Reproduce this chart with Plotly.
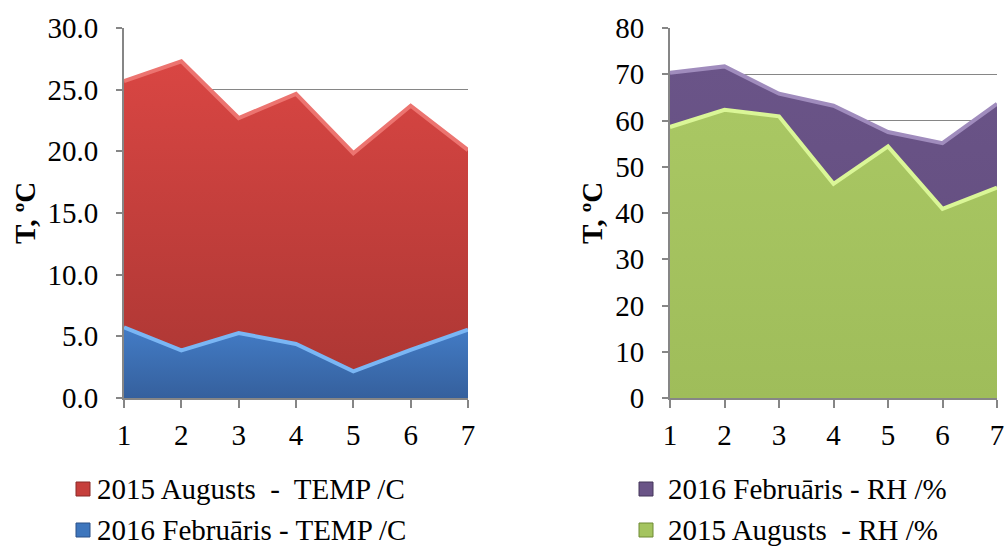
import plotly.graph_objects as go

# ---- data ----
days = [1, 2, 3, 4, 5, 6, 7]
temp_aug_2015 = [25.7, 27.3, 22.7, 24.65, 19.85, 23.7, 20.1]
temp_feb_2016 = [5.73, 3.86, 5.27, 4.38, 2.16, 3.9, 5.54]
rh_feb_2016 = [70.3, 71.7, 65.8, 63.2, 57.5, 55.1, 63.6]
rh_aug_2015 = [58.6, 62.3, 60.9, 46.3, 54.4, 40.9, 45.5]

name_temp_aug = "2015 Augusts  -  TEMP /C"
name_temp_feb = "2016 Februāris - TEMP /C"
name_rh_feb = "2016 Februāris - RH /%"
name_rh_aug = "2015 Augusts  - RH /%"

left_yticks = [0, 5, 10, 15, 20, 25, 30]
right_yticks = [0, 10, 20, 30, 40, 50, 60, 70, 80]
y_title = "T, ºC"

FONT = "Liberation Serif, Times New Roman, serif"
FS = 29
GRAY = "#868686"
W, H = 1008, 550


def px_x(p):
    return p / W


def px_y(p):
    return 1 - p / H


fig = go.Figure()


def area(x, y, xa, ya, nm, top, bottom, edge):
    # colorscale 0 -> bottom of the fill, 1 -> top
    fig.add_trace(go.Scatter(
        x=x, y=y, xaxis=xa, yaxis=ya, mode="lines", fill="tozeroy", name=nm,
        line=dict(color=edge, width=4),
        fillgradient=dict(type="vertical",
                          colorscale=[[0, bottom], [1, top]]),
        showlegend=False, hoverinfo="skip"))


area(days, temp_aug_2015, "x", "y", name_temp_aug, "#d94643", "#aa3633", "#ec7470")
area(days, temp_feb_2016, "x", "y", name_temp_feb, "#437cc6", "#35609d", "#7ab6f4")
area(days, rh_feb_2016, "x2", "y2", name_rh_feb, "#6a5488", "#624c7c", "#a08cbd")
area(days, rh_aug_2015, "x2", "y2", name_rh_aug, "#a9c763", "#9fbd5a", "#daf697")

xaxis_common = dict(range=[1, 7], tickvals=days, showgrid=False,
                    showline=True, linecolor=GRAY, linewidth=2,
                    ticks="outside", ticklen=8, tickcolor=GRAY, tickwidth=2,
                    tickfont=dict(family=FONT, size=FS, color="black"),
                    zeroline=False, fixedrange=True, automargin=False,
                    ticklabelstandoff=2, ticklabeloverflow="allow")
yaxis_common = dict(showgrid=True, gridcolor=GRAY, gridwidth=1,
                    showline=True, linecolor=GRAY, linewidth=2,
                    ticks="outside", ticklen=6, tickcolor=GRAY, tickwidth=2,
                    tickfont=dict(family=FONT, size=FS, color="black"),
                    zeroline=False, fixedrange=True, automargin=False,
                    ticklabelstandoff=12)

ydom = [px_y(398), px_y(28)]

# legend drawn as markers (shapes) + text (annotations)
legend_rows = [
    # (text, fill, border, marker_left_px, text_left_px, center_y_px)
    (name_temp_aug, "#c63f3c", "#8a2a28", 76, 95, 489),
    (name_temp_feb, "#3e76bd", "#2a5088", 76, 95, 530),
    (name_rh_feb, "#6a5487", "#45365a", 639, 666, 489),
    (name_rh_aug, "#a4c45f", "#6e8a35", 639, 666, 530),
]
shapes = []
annotations = []
for txt, col, bcol, mx, tx, cy in legend_rows:
    shapes.append(dict(type="rect", xref="paper", yref="paper",
                       x0=px_x(mx), x1=px_x(mx + 14),
                       y0=px_y(cy + 7), y1=px_y(cy - 7),
                       fillcolor=col, line=dict(color=bcol, width=1)))
    annotations.append(dict(text=txt, xref="paper", yref="paper",
                            x=px_x(tx), y=px_y(cy), xanchor="left",
                            yanchor="middle", showarrow=False,
                            font=dict(family=FONT, size=FS, color="black")))

for xc in (25, 592):
    annotations.append(dict(text="<b>" + y_title + "</b>", textangle=-90,
                            xref="paper", yref="paper", x=px_x(xc),
                            y=px_y(213), xanchor="center", yanchor="middle",
                            showarrow=False,
                            font=dict(family=FONT, size=FS, color="black")))

fig.update_layout(
    template="none",
    width=W, height=H,
    margin=dict(l=0, r=0, t=0, b=0, autoexpand=False),
    paper_bgcolor="white", plot_bgcolor="white",
    showlegend=False,
    xaxis=dict(domain=[px_x(124), px_x(468)], anchor="y", **xaxis_common),
    yaxis=dict(domain=ydom, anchor="x", range=[0, 30], tickvals=left_yticks,
               tickformat=".1f", **yaxis_common),
    xaxis2=dict(domain=[px_x(670), px_x(997)], anchor="y2", **xaxis_common),
    yaxis2=dict(domain=ydom, anchor="x2", range=[0, 80],
                tickvals=right_yticks, **yaxis_common),
    shapes=shapes,
    annotations=annotations,
)

fig.write_html(
    "out.html",
    config={"displayModeBar": False},
    post_script="document.body.style.margin='0';"
                "document.body.style.overflow='hidden';",
)
